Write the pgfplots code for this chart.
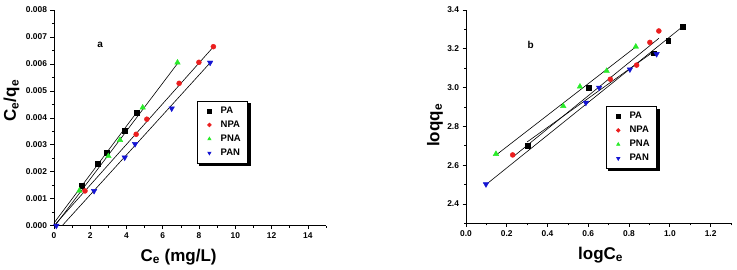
\documentclass[border=0pt]{standalone}
\usepackage{fontspec}
\setmainfont{Liberation Sans}
\usepackage{pgfplots}
\pgfplotsset{compat=1.18}
\definecolor{cpa}{RGB}{0,0,0}
\definecolor{cnpa}{RGB}{235,30,30}
\definecolor{cpna}{RGB}{40,235,40}
\definecolor{cpan}{RGB}{20,20,210}
\pgfplotsset{
 mystyle/.style={
  scale only axis,
  axis x line=bottom, axis y line=left,
  axis line style={-, line width=0.8pt},
  tick align=outside,
  major tick length=3.5pt, minor tick length=2pt,
  every tick/.style={black, line width=0.7pt},
  tick label style={font=\bfseries\fontsize{8.4}{10}\selectfont},
  /pgf/number format/assume math mode=true,
  label style={font=\bfseries\fontsize{17}{19}\selectfont},
  clip=false,
  legend cell align=left,
  legend image code/.code={\path (0pt,-3pt) (16pt,3pt);
     \draw[##1, mark size=1.9pt] plot coordinates {(7pt,0pt)};},
  legend style={draw=black, line width=0.6pt, font=\bfseries\fontsize{9.5}{11}\selectfont,
    anchor=north west, fill=white,
    row sep=2pt, inner xsep=5pt, inner ysep=4pt},
  fitline/.style={black, line width=0.6pt, forget plot},
  pa/.style={only marks, mark=square*, mark size=2.4pt, mark options={fill=cpa, draw=cpa}},
  npa/.style={only marks, mark=*, mark size=2.5pt, mark options={fill=cnpa, draw=cnpa}},
  pna/.style={only marks, mark=triangle*, mark size=3.2pt, mark options={fill=cpna, draw=cpna}},
  pan/.style={only marks, mark=triangle*, mark size=3.2pt, mark options={fill=cpan, draw=cpan, rotate=180}},
 }
}
\begin{document}
\begin{tikzpicture}
\useasboundingbox (0pt,0pt) rectangle (737pt,269pt);
% ---------------- left panel ----------------
\begin{axis}[mystyle, at={(54pt,43.3pt)}, anchor=south west,
  width=272pt, height=215.7pt,
  xmin=0, xmax=15, ymin=0, ymax=0.008,
  xtick={0,2,4,6,8,10,12,14}, minor xtick={1,3,5,7,9,11,13,15},
  ytick={0,0.001,0.002,0.003,0.004,0.005,0.006,0.007,0.008},
  minor ytick={0.0005,0.0015,0.0025,0.0035,0.0045,0.0055,0.0065,0.0075},
  scaled y ticks=false,
  yticklabel style={/pgf/number format/.cd, fixed, fixed zerofill, precision=3},
  xlabel={C\textsubscript{e} (mg/L)},
  ylabel={C\textsubscript{e}/q\textsubscript{e}},
  xlabel style={at={(axis description cs:0.458,-0.144)}, anchor=center},
  ylabel style={at={(axis description cs:-0.156,0.58)}, anchor=center},
  legend style={at={(axis description cs:0.525,0.58)}, name=legA},
]
\addplot[fitline] coordinates {(0,0.0001) (4.56,0.0042)};
\addplot[fitline] coordinates {(0.05,0) (6.85,0.00605)};
\addplot[fitline] coordinates {(0,0) (8.8,0.00664)};
\addplot[fitline] coordinates {(0.45,0) (8.62,0.00605)};
\addplot[pa] coordinates {(1.53,0.00148) (2.41,0.00229) (2.91,0.00271) (3.92,0.00352) (4.56,0.00419)};
\addplot[npa] coordinates {(1.71,0.00129) (4.53,0.00339) (5.12,0.00395) (6.90,0.00528) (7.99,0.00606) (8.79,0.00664)};
\addplot[pna] coordinates {(1.40,0.00130) (3.00,0.00258) (3.64,0.00318) (4.89,0.00438) (6.81,0.00605)};
\addplot[pan] coordinates {(0.13,0) (2.21,0.00129) (3.90,0.00253) (4.47,0.00303) (6.49,0.00435) (8.61,0.00605)};
\legend{PA,NPA,PNA,PAN}
\node[font=\bfseries\fontsize{10}{12}\selectfont] at (axis cs:2.54,0.0067) {a};
\end{axis}
\fill[black] ([xshift=0.3pt]legA.north east) ++(0pt,-2.5pt) rectangle ([xshift=2.6pt,yshift=-2.3pt]legA.south east);
\fill[black] ([xshift=2.5pt,yshift=-0.3pt]legA.south west) rectangle ([xshift=2.6pt,yshift=-2.6pt]legA.south east);
% ---------------- right panel ----------------
\begin{axis}[mystyle, at={(466pt,45.6pt)}, anchor=south west,
  width=265pt, height=213.4pt,
  xmin=0, xmax=1.3, ymin=2.3, ymax=3.4,
  xtick={0,0.2,0.4,0.6,0.8,1.0,1.2}, minor xtick={0.1,0.3,0.5,0.7,0.9,1.1,1.3},
  ytick={2.4,2.6,2.8,3.0,3.2,3.4}, minor ytick={2.3,2.5,2.7,2.9,3.1,3.3},
  xticklabel style={/pgf/number format/.cd, fixed, fixed zerofill, precision=1},
  yticklabel style={/pgf/number format/.cd, fixed, fixed zerofill, precision=1},
  xlabel={logC\textsubscript{e}},
  ylabel={loqq\textsubscript{e}},
  xlabel style={at={(axis description cs:0.508,-0.148)}, anchor=center},
  ylabel style={at={(axis description cs:-0.117,0.46)}, anchor=center},
  legend style={at={(axis description cs:0.527,0.55)}, name=legB},
]
\addplot[fitline] coordinates {(0.147,2.652) (0.833,3.21)};
\addplot[fitline] coordinates {(0.232,2.644) (0.946,3.254)};
\addplot[fitline] coordinates {(0.30,2.72) (0.92,3.185)};
\addplot[fitline] coordinates {(0.098,2.50) (1.062,3.314)};
\addplot[pa] coordinates {(0.301,2.699) (0.600,3.000) (0.922,3.177) (0.992,3.240) (1.062,3.312)};
\addplot[npa] coordinates {(0.229,2.653) (0.708,3.043) (0.837,3.116) (0.902,3.233) (0.946,3.292)};
\addplot[pna] coordinates {(0.147,2.658) (0.477,2.905) (0.559,3.005) (0.690,3.086) (0.833,3.211)};
\addplot[pan] coordinates {(0.098,2.502) (0.588,2.922) (0.653,3.000) (0.804,3.094) (0.935,3.173)};
\legend{PA,NPA,PNA,PAN}
\node[font=\bfseries\fontsize{10}{12}\selectfont] at (axis cs:0.317,3.22) {b};
\end{axis}
\fill[black] ([xshift=0.3pt]legB.north east) ++(0pt,-2.5pt) rectangle ([xshift=2.6pt,yshift=-2.3pt]legB.south east);
\fill[black] ([xshift=2.5pt,yshift=-0.3pt]legB.south west) rectangle ([xshift=2.6pt,yshift=-2.6pt]legB.south east);
\end{tikzpicture}
\end{document}
